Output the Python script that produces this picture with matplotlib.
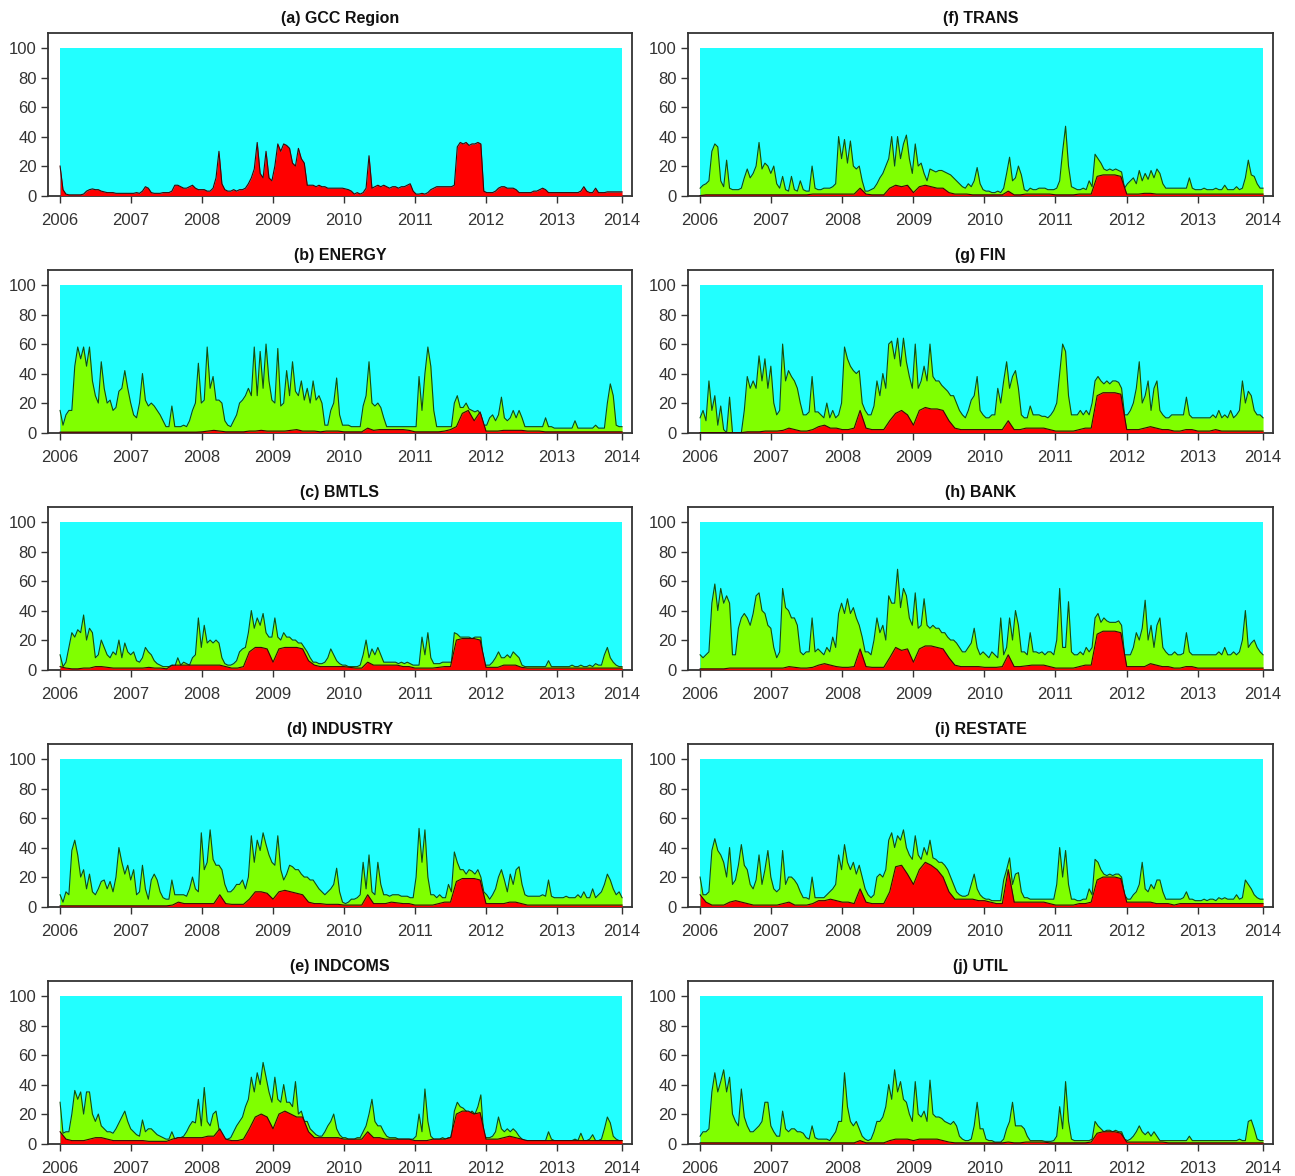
import numpy as np
import matplotlib
matplotlib.use("Agg")
import matplotlib.pyplot as plt

plt.rcParams['font.family'] = ['Liberation Sans', 'DejaVu Sans']

# ---------------- data ----------------
X_START, X_END = 2006.0, 2013.92
TICK_POS = [2006, 2007, 2008, 2009, 2010, 2011, 2012, 2013, 2013.92]
TICK_LABELS = ["2006", "2007", "2008", "2009", "2010", "2011", "2012", "2013", "2014"]
Y_TICKS = [0, 20, 40, 60, 80, 100]

titles = ["(a) GCC Region", "(b) ENERGY", "(c) BMTLS", "(d) INDUSTRY", "(e) INDCOMS",
          "(f) TRANS", "(g) FIN", "(h) BANK", "(i) RESTATE", "(j) UTIL"]

# (a) GCC Region: only the red layer (semi-monthly)
red_a = [
    20, 4, 1, 0.5, 0.5, 0.5, 0.5, 0.5, 1, 3, 4, 4.5, 4, 4, 3, 2.5, 2, 2, 2, 1.5, 1.5, 1.5, 1.5, 1.5,
    1.5, 1.5, 2, 1.5, 3, 6, 5, 2, 1.5, 1.5, 1.5, 2, 2, 2, 3, 7, 7, 6, 5, 5, 6, 7, 5, 4,
    4, 4, 3, 3, 5, 12, 30, 8, 4, 3, 3, 4, 3, 4, 4, 5, 8, 12, 18, 36, 15, 12, 30, 12,
    10, 20, 35, 30, 35, 34, 32, 22, 20, 32, 25, 22, 7, 7, 7, 6, 7, 6, 6, 5, 5, 5, 5, 5,
    5, 4.5, 4, 3, 1, 2, 1, 2, 5, 27, 5, 6, 7, 6, 7, 6, 5, 6, 6, 5, 6, 6, 7, 8,
    3, 1, 1, 1.5, 1, 2, 4, 5, 6, 6, 6, 6, 6, 6, 7, 33, 36, 35, 36, 34, 35, 35, 36, 35,
    3, 2, 2, 2, 3, 5, 6, 6, 5, 5, 5, 4, 2, 2, 2, 2, 2, 3, 3, 4, 5, 4, 2, 2,
    2, 2, 2, 2, 2, 2, 2, 2, 2, 3, 6, 3, 2, 2, 5, 2, 2, 2, 2.5, 2.5, 2.5, 2.5, 2.5, 2.5,
]

# green-layer tops (semi-monthly), red layers (monthly)
tot_b = [
    15, 5, 12, 15, 15, 45, 58, 50, 58, 45, 58, 35, 25, 20, 48, 30, 20, 22, 15, 17, 28, 30, 42, 30,
    20, 12, 10, 20, 40, 22, 18, 20, 18, 15, 12, 8, 4, 4, 18, 4, 4, 4, 5, 4, 8, 15, 20, 47,
    20, 22, 58, 30, 38, 22, 22, 20, 8, 5, 4, 8, 12, 20, 22, 25, 30, 25, 58, 25, 55, 30, 60, 35,
    22, 20, 57, 18, 20, 42, 25, 48, 28, 25, 35, 22, 30, 20, 35, 22, 25, 20, 5, 5, 15, 20, 37, 12,
    5, 5, 5, 4, 4, 4, 4, 18, 25, 48, 20, 18, 20, 17, 10, 4, 4, 4, 4, 4, 4, 4, 4, 4,
    4, 4, 38, 15, 40, 58, 45, 15, 4, 4, 4, 4, 4, 4, 20, 25, 17, 17, 20, 16, 15, 14, 15, 12,
    5, 5, 10, 12, 8, 12, 24, 10, 8, 10, 15, 10, 15, 10, 4, 4, 4, 4, 4, 4, 4, 10, 4, 4,
    3, 3, 3, 3, 3, 3, 3, 8, 3, 3, 3, 3, 3, 3, 5, 3, 3, 3, 20, 33, 25, 5, 4, 4,
]
red_b = [
    0.3, 0.3, 0.3, 0.3, 0.3, 0.3, 0.3, 0.3, 0.3, 0.3, 0.3, 0.3,
    0.3, 0.3, 0.3, 0.3, 0.3, 0.3, 0.3, 0.3, 0.3, 0.3, 0.3, 0.3,
    0.5, 1, 1.5, 1, 0.5, 0.5, 0.5, 0.5, 1, 1, 1.5, 1,
    1, 1, 1, 1.5, 2, 1, 1, 1, 0.5, 1, 1, 1,
    0.5, 0.5, 0.5, 0.5, 3, 1.5, 2, 2, 2, 2, 2, 1.5,
    0.5, 0.5, 0.5, 0.5, 0.5, 1, 2, 4, 13, 15, 8, 14,
    1, 1, 1, 1.5, 1.5, 1.5, 1.5, 1, 1, 1, 0.5, 0.5,
    0.5, 0.5, 0.5, 0.5, 0.5, 0.5, 0.5, 0.5, 0.5, 0.5, 0.5, 0.5,
]

tot_c = [
    10, 2, 5, 15, 25, 22, 27, 25, 37, 20, 28, 25, 8, 10, 20, 15, 10, 8, 12, 10, 20, 8, 18, 12,
    10, 12, 6, 5, 8, 15, 12, 10, 6, 4, 3, 2, 2, 2, 3, 2, 8, 3, 5, 4, 3, 8, 10, 35,
    15, 30, 18, 20, 18, 20, 18, 8, 4, 3, 3, 4, 6, 12, 14, 15, 25, 40, 28, 35, 30, 38, 25, 22,
    22, 35, 22, 20, 25, 22, 22, 20, 20, 18, 18, 15, 12, 8, 5, 5, 4, 4, 5, 8, 14, 10, 6, 4,
    3, 3, 2, 2, 2, 2, 3, 10, 20, 8, 14, 10, 15, 10, 5, 5, 5, 5, 5, 4, 5, 4, 5, 4,
    3, 3, 3, 22, 10, 25, 8, 4, 4, 4, 5, 5, 5, 5, 25, 24, 22, 22, 22, 22, 21, 22, 22, 22,
    3, 3, 3, 5, 8, 12, 8, 8, 10, 8, 12, 10, 8, 3, 2, 2, 2, 2, 2, 2, 2, 2, 6, 2,
    2, 2, 2, 2, 2, 2, 3, 2, 2, 3, 2, 2, 3, 2, 4, 3, 3, 10, 15, 8, 5, 3, 2, 2,
]
red_c = [
    2, 1, 0.5, 0.5, 1, 1, 2, 2, 1.5, 1, 1, 1,
    1, 1, 1, 1.5, 1, 1, 0.5, 3, 3, 3, 3, 3,
    3, 3, 3, 3, 2, 1, 1, 2, 12, 15, 15, 14,
    5, 14, 15, 15, 15, 14, 6, 3, 2, 2, 2, 2,
    2, 1.5, 1, 1, 5, 3, 3, 3, 3, 3, 2, 2,
    1, 1, 1, 1, 1.5, 2, 2, 20, 21, 21, 21, 20,
    1.5, 1.5, 1.5, 3, 3, 3, 1.5, 1, 1, 1, 1, 1,
    1, 1, 1, 1, 1, 1, 1, 1, 1, 1, 1, 1,
]

tot_d = [
    8, 3, 10, 8, 38, 45, 35, 20, 25, 12, 22, 10, 8, 12, 17, 18, 12, 17, 10, 20, 40, 30, 22, 28,
    18, 25, 8, 10, 28, 12, 5, 18, 22, 18, 10, 6, 5, 5, 18, 8, 8, 8, 8, 7, 12, 20, 12, 10,
    50, 25, 30, 52, 32, 28, 28, 25, 15, 10, 10, 12, 15, 15, 18, 12, 20, 48, 30, 45, 38, 50, 42, 35,
    30, 28, 48, 25, 18, 22, 28, 27, 25, 25, 22, 20, 20, 18, 18, 15, 12, 10, 8, 10, 12, 15, 26, 10,
    3, 2, 3, 5, 5, 6, 8, 30, 12, 35, 10, 8, 30, 15, 8, 8, 7, 8, 8, 8, 7, 7, 7, 6,
    6, 20, 53, 30, 52, 20, 8, 8, 6, 8, 6, 6, 15, 10, 37, 30, 25, 25, 22, 25, 24, 22, 25, 20,
    10, 8, 5, 8, 12, 20, 25, 18, 10, 22, 15, 25, 27, 15, 8, 7, 7, 7, 7, 7, 8, 7, 18, 7,
    6, 6, 6, 6, 7, 6, 6, 6, 8, 6, 10, 6, 6, 12, 6, 8, 10, 15, 22, 18, 12, 8, 10, 6,
]
red_d = [
    0.5, 0.5, 0.5, 0.5, 0.5, 0.5, 0.5, 0.5, 0.5, 0.5, 0.5, 0.5,
    0.5, 0.5, 0.5, 0.5, 0.5, 0.5, 0.5, 1, 3, 2, 2, 2,
    2, 2, 2, 8, 2, 1.5, 1.5, 1.5, 5, 10, 10, 9,
    5, 10, 11, 10, 9, 8, 3, 2, 2, 1.5, 1.5, 1.5,
    1, 1, 1, 1, 8, 2, 2, 2, 3, 2.5, 2, 2,
    1, 1, 1, 1, 2, 3, 3, 17, 19, 19, 19, 18,
    2, 2, 2, 2, 3, 3, 2, 1, 1, 1, 1, 1,
    1, 1, 1, 1, 1, 1, 1, 1, 1, 1, 1, 1,
]

tot_e = [
    28, 7, 8, 8, 20, 36, 30, 35, 20, 35, 35, 20, 15, 20, 12, 10, 8, 8, 7, 10, 14, 18, 22, 15,
    10, 8, 6, 5, 16, 8, 10, 10, 8, 6, 5, 4, 3, 3, 8, 3, 4, 4, 5, 8, 12, 15, 14, 30,
    12, 38, 15, 12, 20, 22, 10, 5, 3, 3, 4, 8, 12, 15, 18, 25, 30, 45, 35, 48, 40, 55, 45, 35,
    28, 45, 30, 28, 40, 28, 28, 25, 42, 20, 22, 15, 15, 10, 8, 6, 5, 5, 8, 12, 15, 20, 10, 6,
    4, 4, 3, 3, 3, 4, 4, 8, 12, 20, 30, 15, 12, 12, 8, 5, 4, 4, 4, 3, 3, 3, 3, 3,
    3, 5, 20, 8, 37, 15, 5, 3, 3, 3, 4, 3, 4, 4, 22, 28, 25, 24, 22, 20, 22, 20, 25, 33,
    5, 4, 4, 5, 8, 18, 10, 8, 10, 8, 10, 8, 5, 3, 2, 2, 2, 2, 2, 2, 2, 2, 8, 3,
    2, 2, 2, 2, 2, 2, 2, 3, 2, 7, 2, 2, 3, 6, 2, 2, 3, 10, 18, 14, 5, 3, 2, 2,
]
red_e = [
    8, 3, 2, 2, 2, 3, 4, 4, 3, 2, 2, 2,
    2, 2, 2, 1.5, 1.5, 1.5, 1.5, 3, 4, 4, 4, 4,
    4, 5, 5, 10, 3, 2, 2, 3, 10, 18, 20, 18,
    10, 20, 22, 20, 18, 18, 8, 4, 4, 4, 4, 4,
    3, 3, 3, 3, 8, 4, 4, 3, 3, 3, 3, 3,
    2, 2, 2, 3, 3, 3, 4, 20, 22, 22, 20, 21,
    3, 3, 3, 4, 5, 4, 3, 2, 2, 2, 2, 2,
    2, 2, 2, 2, 2, 2, 2, 2, 2, 2, 2, 2,
]

tot_f = [
    5, 7, 8, 10, 30, 35, 33, 10, 6, 24, 5, 4, 4, 4, 5, 12, 18, 12, 15, 20, 36, 18, 22, 20,
    15, 20, 8, 5, 13, 4, 3, 13, 4, 3, 10, 4, 3, 3, 20, 5, 4, 4, 5, 5, 5, 6, 8, 40,
    25, 38, 22, 37, 20, 18, 20, 10, 3, 3, 4, 5, 8, 12, 15, 20, 25, 40, 20, 40, 25, 35, 41, 25,
    15, 35, 20, 22, 15, 10, 18, 17, 16, 17, 17, 16, 15, 14, 12, 10, 8, 6, 5, 8, 6, 10, 19, 8,
    4, 3, 3, 2, 2, 3, 2, 5, 15, 26, 10, 12, 20, 14, 4, 3, 5, 4, 4, 5, 5, 5, 4, 4,
    4, 5, 10, 30, 47, 20, 6, 5, 4, 4, 5, 4, 10, 6, 28, 25, 22, 18, 17, 18, 17, 18, 17, 16,
    5, 8, 10, 12, 8, 17, 10, 15, 11, 17, 12, 18, 15, 8, 5, 5, 5, 5, 5, 5, 5, 5, 12, 5,
    4, 4, 4, 5, 4, 4, 4, 5, 4, 4, 7, 4, 4, 4, 6, 4, 5, 12, 24, 14, 13, 8, 5, 5,
]
red_f = [
    0, 0.5, 0.5, 0.5, 0.5, 0.5, 0.5, 0.5, 0.5, 0.5, 0.5, 0.5,
    0.5, 0.5, 0.5, 0.5, 0.5, 0.5, 0.5, 1, 1, 1, 1, 1,
    1, 1, 1, 5, 1, 0.5, 0.5, 0.5, 5, 7, 6, 7,
    2, 6, 7, 6, 5, 5, 2, 1, 1, 1, 0.5, 0.5,
    0.5, 0.5, 0.5, 0.5, 3, 0.5, 0.5, 1, 1, 1, 1, 1,
    0.5, 0.5, 0.5, 0.5, 1, 1, 1, 13, 14, 14, 14, 13,
    1, 1, 1, 1.5, 1.5, 1, 1, 1, 1, 1, 1, 1,
    1, 1, 1, 1, 1, 1, 1, 1, 1, 1, 1, 1,
]

tot_g = [
    10, 15, 8, 35, 15, 25, 5, 18, 2, 0, 24, 0, 0, 0, 0, 15, 38, 30, 35, 30, 52, 35, 50, 30,
    45, 20, 12, 15, 60, 35, 42, 38, 35, 30, 20, 12, 12, 14, 38, 14, 14, 12, 10, 20, 10, 15, 10, 12,
    20, 58, 50, 45, 42, 40, 42, 20, 15, 12, 12, 18, 35, 25, 40, 30, 60, 62, 50, 64, 45, 64, 48, 38,
    30, 60, 30, 35, 45, 35, 60, 38, 35, 35, 32, 30, 28, 25, 25, 20, 15, 12, 10, 15, 22, 25, 38, 15,
    12, 10, 10, 12, 12, 30, 20, 35, 48, 30, 38, 42, 30, 12, 10, 10, 18, 12, 12, 12, 11, 11, 10, 12,
    15, 20, 40, 60, 55, 25, 12, 12, 12, 15, 12, 15, 12, 20, 35, 38, 35, 33, 35, 33, 35, 35, 34, 30,
    12, 12, 15, 20, 30, 48, 20, 25, 35, 15, 30, 35, 15, 12, 10, 10, 12, 12, 12, 12, 12, 24, 12, 10,
    10, 10, 10, 10, 10, 10, 12, 10, 15, 10, 12, 10, 15, 10, 12, 15, 35, 20, 28, 25, 15, 12, 12, 10,
]
red_g = [
    0, 0, 0, 0, 0, 0, 0, 0, 0.5, 0.5, 0.5, 1,
    1, 1, 1.5, 3, 2, 1, 1, 2, 4, 5, 3, 3,
    2, 2, 3, 15, 3, 2, 2, 2, 8, 13, 15, 12,
    5, 15, 17, 16, 16, 15, 8, 3, 2, 2, 2, 2,
    2, 2, 2, 2, 8, 2, 2, 3, 3, 3, 3, 2,
    1, 1, 1, 1, 2, 3, 3, 25, 27, 27, 27, 26,
    2, 2, 2, 3, 4, 3, 2, 2, 1, 1, 2, 2,
    1, 1, 1, 2, 1, 1, 1, 1, 1, 1, 1, 1,
]

tot_h = [
    10, 8, 10, 12, 45, 58, 40, 55, 45, 50, 45, 10, 10, 28, 35, 38, 35, 30, 38, 50, 52, 40, 38, 30,
    28, 15, 8, 12, 55, 42, 40, 35, 35, 30, 12, 10, 12, 12, 35, 12, 14, 12, 10, 15, 12, 22, 15, 38,
    45, 38, 48, 38, 42, 35, 30, 22, 12, 12, 10, 20, 35, 25, 30, 20, 50, 45, 45, 68, 42, 55, 50, 35,
    30, 52, 28, 30, 48, 30, 28, 30, 28, 28, 25, 25, 22, 20, 20, 18, 15, 12, 12, 15, 18, 28, 15, 10,
    12, 10, 8, 12, 10, 8, 35, 10, 15, 35, 20, 40, 30, 12, 12, 10, 25, 12, 12, 11, 12, 10, 12, 12,
    10, 20, 55, 15, 15, 46, 12, 10, 10, 12, 10, 15, 12, 15, 35, 38, 32, 35, 33, 32, 32, 32, 33, 30,
    10, 10, 10, 15, 25, 20, 28, 47, 20, 30, 15, 30, 35, 15, 12, 10, 10, 12, 10, 10, 11, 25, 12, 10,
    10, 10, 10, 10, 10, 10, 10, 10, 12, 10, 15, 10, 10, 12, 10, 12, 20, 40, 15, 18, 20, 15, 12, 10,
]
red_h = [
    0.5, 0.5, 0.5, 0.5, 0.5, 1, 1, 1, 1, 1, 1, 1,
    1, 1, 1, 2, 1.5, 1, 1, 1.5, 3, 4, 3, 2,
    1.5, 1.5, 2, 14, 2, 1.5, 1.5, 1.5, 8, 15, 13, 14,
    5, 14, 16, 16, 15, 14, 8, 3, 2, 2, 2, 2,
    1.5, 1.5, 1.5, 2, 10, 2, 2, 2.5, 3, 3, 3, 2,
    1, 1, 1, 1, 2, 3, 3, 24, 26, 26, 26, 25,
    2, 2, 2, 2, 4, 3, 2, 2, 1, 1, 2, 2,
    1, 1, 1, 1, 1, 1, 1, 1, 1, 1, 1, 1,
]

tot_i = [
    20, 8, 8, 10, 38, 46, 38, 35, 30, 20, 40, 15, 18, 28, 42, 28, 25, 15, 12, 18, 35, 15, 25, 38,
    20, 12, 10, 12, 38, 15, 20, 20, 18, 15, 10, 6, 6, 5, 20, 6, 6, 6, 6, 8, 10, 12, 15, 35,
    25, 42, 30, 25, 30, 22, 28, 20, 12, 8, 6, 8, 20, 22, 20, 25, 45, 50, 40, 48, 45, 52, 40, 35,
    32, 48, 35, 32, 40, 35, 45, 33, 32, 30, 30, 28, 25, 20, 15, 10, 8, 7, 7, 8, 15, 22, 12, 8,
    6, 5, 5, 4, 4, 4, 4, 18, 25, 33, 15, 22, 23, 10, 6, 6, 5, 5, 5, 5, 5, 5, 5, 5,
    5, 15, 40, 20, 38, 15, 5, 5, 4, 4, 5, 5, 12, 8, 32, 30, 25, 22, 21, 22, 21, 22, 22, 20,
    8, 5, 5, 8, 10, 15, 30, 12, 10, 15, 12, 18, 18, 10, 5, 5, 5, 5, 5, 5, 6, 10, 5, 5,
    4, 4, 4, 5, 4, 5, 5, 4, 6, 5, 6, 5, 5, 5, 8, 5, 6, 18, 15, 12, 8, 6, 5, 5,
]
red_i = [
    8, 3, 1, 1, 1, 3, 4, 3, 2, 1, 1, 1,
    1, 1, 2, 3, 1, 1, 1, 2, 4, 4, 5, 4,
    3, 3, 2, 12, 3, 2, 2, 2, 10, 27, 28, 22,
    15, 25, 30, 28, 25, 20, 10, 5, 5, 5, 5, 4,
    4, 3, 2, 2, 25, 3, 3, 3, 3, 3, 3, 2,
    1, 1, 1, 1, 2, 2, 3, 18, 20, 20, 20, 19,
    3, 3, 3, 3, 3, 2, 2, 2, 1, 2, 2, 2,
    2, 2, 2, 2, 2, 2, 2, 2, 2, 2, 2, 2,
]

tot_j = [
    5, 8, 8, 10, 35, 48, 35, 42, 50, 35, 45, 20, 15, 12, 37, 18, 12, 8, 8, 10, 12, 15, 28, 28,
    12, 8, 5, 5, 22, 10, 8, 10, 10, 8, 8, 7, 4, 3, 12, 4, 3, 3, 3, 3, 2, 5, 8, 15,
    15, 48, 25, 15, 12, 15, 10, 5, 3, 2, 3, 8, 15, 15, 18, 25, 40, 30, 50, 35, 42, 30, 28, 20,
    15, 42, 20, 18, 22, 15, 43, 20, 18, 18, 17, 15, 14, 13, 15, 12, 5, 3, 2, 2, 3, 12, 28, 10,
    10, 3, 2, 2, 1, 1, 1, 3, 10, 15, 28, 12, 12, 12, 10, 5, 2, 2, 2, 2, 2, 1.5, 1.5, 1.5,
    2, 5, 25, 10, 42, 15, 3, 2, 2, 2, 2, 2, 2, 3, 15, 12, 10, 8, 9, 9, 8, 9, 8, 8,
    3, 2, 3, 5, 8, 12, 8, 6, 8, 5, 8, 5, 2, 2, 2, 2, 2, 2, 2, 2, 2, 2, 5, 2,
    2, 2, 2, 2, 2, 2, 2, 2, 2, 2, 2, 2, 2, 2, 2, 3, 2, 2, 15, 16, 10, 3, 2, 2,
]
red_j = [
    0.5, 0.5, 0.5, 0.5, 0.5, 0.5, 0.5, 0.5, 0.5, 0.5, 0.5, 0.5,
    0.5, 0.5, 0.5, 0.5, 0.5, 0.5, 0.5, 0.5, 0.5, 0.5, 0.5, 0.5,
    0.5, 0.5, 0.5, 2, 0.5, 0.5, 0.5, 0.5, 2, 3, 3, 3,
    2, 3, 3, 3, 3, 2, 1, 0.5, 0.5, 0.5, 0.5, 0.5,
    0.5, 0.5, 0.5, 0.5, 1, 0.5, 0.5, 1, 1, 1, 1, 0.5,
    0.5, 0.5, 0.5, 0.5, 0.5, 0.5, 1, 7, 8, 8, 8, 7,
    1, 1, 1, 1, 1, 1, 1, 0.5, 0.5, 0.5, 0.5, 0.5,
    0.5, 0.5, 0.5, 0.5, 0.5, 0.5, 0.5, 0.5, 0.5, 0.5, 0.5, 0.5,
]

greens = [None, tot_b, tot_c, tot_d, tot_e, tot_f, tot_g, tot_h, tot_i, tot_j]
reds = [red_a, red_b, red_c, red_d, red_e, red_f, red_g, red_h, red_i, red_j]

# ---------------- styling ----------------
CYAN = "#22FFFF"
GREEN = "#80FF00"
RED = "#FF0000"
EDGE_G = "#124a12"
EDGE_R = "#3a0505"
FRAME = "#333333"

W, H = 1295, 1176
fig = plt.figure(figsize=(W / 100, H / 100), dpi=100)
fig.patch.set_facecolor("white")

col_x = [(48, 632), (688, 1273)]
row_top0, row_bot0, row_step = 33, 196, 237

for idx in range(10):
    col = 0 if idx < 5 else 1
    row = idx % 5
    x0, x1 = col_x[col]
    top = row_top0 + row * row_step
    bot = row_bot0 + row * row_step
    ax = fig.add_axes([x0 / W, 1 - bot / H, (x1 - x0) / W, (bot - top) / H])

    ax.fill_between([X_START, X_END], 0, 100, color=CYAN, lw=0, zorder=1)
    g = greens[idx]
    if g is not None:
        xg = np.linspace(X_START, X_END, len(g))
        ax.fill_between(xg, 0, g, color=GREEN, lw=0, zorder=2)
        ax.plot(xg, g, color=EDGE_G, lw=0.8, zorder=3)
    r = reds[idx]
    xr = np.linspace(X_START, X_END, len(r))
    ax.fill_between(xr, 0, r, color=RED, lw=0, zorder=4)
    ax.plot(xr, r, color=EDGE_R, lw=0.8, zorder=5)

    ax.set_xlim(2005.83, 2014.06)
    ax.set_ylim(-0.3, 110.2)
    ax.set_xticks(TICK_POS)
    ax.set_xticklabels(TICK_LABELS)
    ax.set_yticks(Y_TICKS)
    ax.tick_params(axis="both", direction="out", length=5, width=1.0,
                   color=FRAME, labelcolor="#333333", labelsize=12)
    ax.tick_params(axis="x", pad=7)
    ax.tick_params(axis="y", pad=3)
    for s in ax.spines.values():
        s.set_color(FRAME)
        s.set_linewidth(1.3)
    ax.set_title(titles[idx], fontsize=11.5, fontweight="bold", color="#111111", pad=7)

fig.savefig("out.png", dpi=100, facecolor="white")
